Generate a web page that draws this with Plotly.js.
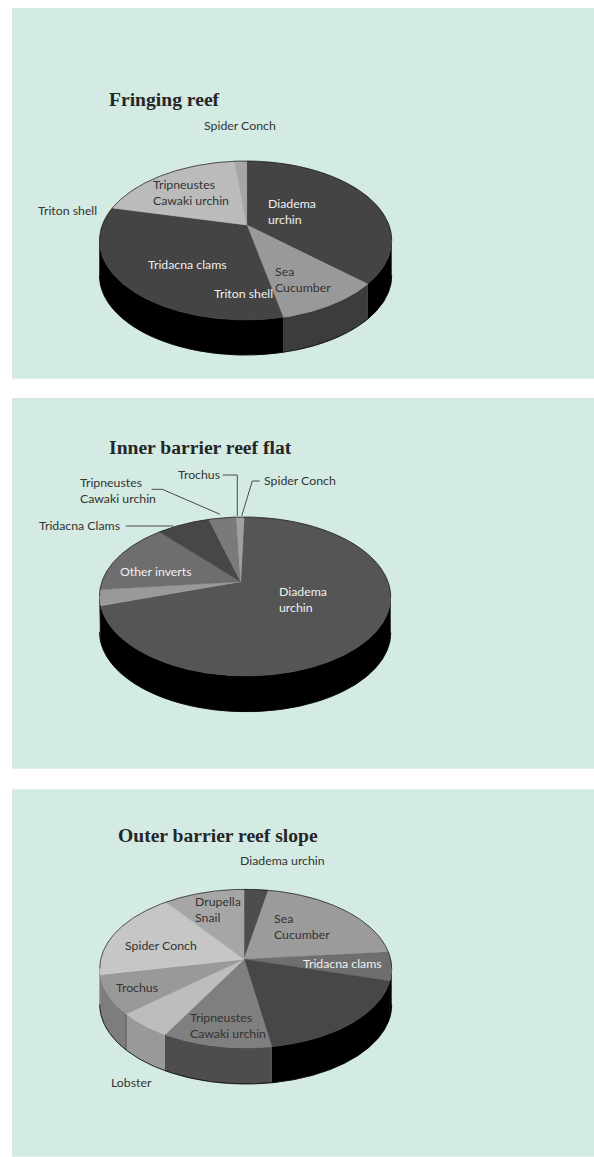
<!DOCTYPE html>
<html>
<head>
<meta charset="utf-8">
<script src="https://cdn.plot.ly/plotly-3.0.1.min.js"></script>
<style>html,body{margin:0;padding:0;background:#fff}#chart{width:594px;height:1157px}</style>
</head>
<body>
<div id="chart"></div>
<script>
// Share of invertebrates per habitat (percent), clockwise from the top of each disc.
const fringingNames  = ['Diadema urchin', 'Sea Cucumber', 'Tridacna clams', 'Tripneustes Cawaki urchin', 'Spider Conch'];
const fringingValues = [36.8, 9.9, 32.0, 19.7, 1.6];
const fringingTop    = ['#444444', '#999999', '#444444', '#bbbbbb', '#a6a6a6'];
const fringingSide   = ['#000000', '#3c3c3c', '#000000', '#000000', '#000000'];

const innerNames  = ['Diadema urchin', 'Sea Cucumber', 'Other inverts', 'Tridacna Clams', 'Tripneustes Cawaki urchin', 'Trochus'];
const innerValues = [69.6, 3.3, 15.2, 7.2, 3.7, 1.0];
const innerTop    = ['#555555', '#999999', '#6e6e6e', '#474747', '#7a7a7a', '#a0a0a0'];
const innerSide   = ['#000000', '#000000', '#000000', '#000000', '#000000', '#000000'];

const outerNames  = ['Diadema urchin', 'Sea Cucumber', 'Tridacna clams', 'Other inverts', 'Tripneustes Cawaki urchin', 'Lobster', 'Trochus', 'Spider Conch', 'Drupella Snail'];
const outerValues = [3.0, 20.3, 6.0, 18.0, 10.9, 5.5, 8.1, 18.1, 10.1];
const outerTop    = ['#4d4d4d', '#9b9b9b', '#6e6e6e', '#474747', '#7f7f7f', '#bdbdbd', '#999999', '#c6c6c6', '#a6a6a6'];
const outerSide   = ['#000000', '#000000', '#000000', '#000000', '#4d4d4d', '#999999', '#7d7d7d', '#7d7d7d', '#7d7d7d'];

const PAGE_W = 594, PAGE_H = 1157;
const toX = px => px / PAGE_W;
const toY = py => 1 - py / PAGE_H;

// Disc geometry: apex, outer extents, wall height and the panel holding it.
const panels = [
  { names: fringingNames, values: fringingValues, top: fringingTop, side: fringingSide, start: 0, seams: [],
    apex: [246.7, 225], left: 99.5, right: 391.7, upper: 161, lower: 320, wall: 35, box: [12, 8, 594, 378.7] },
  { names: innerNames, values: innerValues, top: innerTop, side: innerSide, start: 1.6, seams: [],
    apex: [240.7, 581.7], left: 99.5, right: 390.7, upper: 517, lower: 676, wall: 35.7, box: [12, 398, 594, 768.7] },
  { names: outerNames, values: outerValues, top: outerTop, side: outerSide, start: 0, seams: [6],
    apex: [244, 959.3], left: 99.7, right: 391.7, upper: 889.3, lower: 1048, wall: 36, box: [12, 789.3, 594, 1156.7] }
];

// Perspective of the tilted disc: solves tilt and scale from its outer extents.
function solveView(p) {
  const R = p.right - p.apex[0], L = p.apex[0] - p.left;
  const T = p.apex[1] - p.upper, B = p.lower - p.apex[1];
  let k = 0, m = 0;
  for (let i = 0; i < 8; i++) {
    const q = Math.sqrt(1 - k * k), s = Math.sqrt(1 - m * m);
    k = s * (B - T) / (B + T);
    m = q * (L - R) / (L + R);
  }
  const q = Math.sqrt(1 - k * k), s = Math.sqrt(1 - m * m);
  return { k, m, sx: R * (q + m), sy: T * (s + k) };
}

function rim(view, deg) {
  const a = deg * Math.PI / 180, X = Math.sin(a), Y = Math.cos(a);
  const w = 1 + view.k * Y + view.m * X;
  return [X / w, Y / w];
}

function arcDegrees(from, to) {
  const out = [];
  const n = Math.max(2, Math.ceil((to - from) * 2));
  for (let i = 0; i <= n; i++) out.push(from + (to - from) * i / n);
  return out;
}

const traces = [], annotations = [], shapes = [];
const layout = {
  width: PAGE_W, height: PAGE_H, showlegend: false, hovermode: false,
  margin: { l: 0, r: 0, t: 0, b: 0 }, paper_bgcolor: '#ffffff', plot_bgcolor: '#d4ebe3',
  annotations, shapes
};

panels.forEach((p, idx) => {
  const view = solveView(p);
  const suffix = idx === 0 ? '' : String(idx + 1);
  const xa = 'x' + suffix, ya = 'y' + suffix;
  const [x0, y0, x1, y1] = p.box;
  layout['xaxis' + suffix] = { visible: false, fixedrange: true, anchor: ya,
    domain: [toX(x0), toX(x1)], range: [(x0 - p.apex[0]) / view.sx, (x1 - p.apex[0]) / view.sx] };
  layout['yaxis' + suffix] = { visible: false, fixedrange: true, anchor: xa,
    domain: [toY(y1), toY(y0)], range: [(p.apex[1] - y1) / view.sy, (p.apex[1] - y0) / view.sy] };

  const drop = p.wall / view.sy;
  const total = p.values.reduce((a, b) => a + b, 0);

  // Front of the wall runs between the rightmost and the leftmost rim points.
  let rightDeg = 0, leftDeg = 0, maxX = -Infinity, minX = Infinity;
  for (let d = 0; d < 360; d += 0.25) {
    const x = rim(view, d)[0];
    if (x > maxX) { maxX = x; rightDeg = d; }
    if (x < minX) { minX = x; leftDeg = d; }
  }

  const wedges = [];
  let cursor = p.start;
  p.values.forEach((v, i) => {
    const from = cursor, to = cursor + v / total * 360;
    cursor = to;
    wedges.push({ from, to, i });
  });

  const line = (xs, ys, color, width) => ({ type: 'scatter', mode: 'lines', xaxis: xa, yaxis: ya, x: xs, y: ys,
    hoverinfo: 'skip', line: { color, width } });

  // Outer wall, one piece per slice.
  wedges.forEach(({ from, to, i }) => {
    const a = Math.max(from, rightDeg), b = Math.min(to, leftDeg);
    if (b <= a) return;
    const upper = arcDegrees(a, b).map(d => rim(view, d));
    const xs = upper.map(c => c[0]).concat(upper.slice().reverse().map(c => c[0]));
    const ys = upper.map(c => c[1]).concat(upper.slice().reverse().map(c => c[1] - drop));
    traces.push(Object.assign(line(xs, ys, p.side[i], 0.5), { fill: 'toself', fillcolor: p.side[i] }));
  });

  // Dark vertical edge where a slice boundary meets the wall.
  p.seams.forEach(i => {
    const c = rim(view, wedges[i].from);
    traces.push(line([c[0], c[0]], [c[1], c[1] - drop], '#4a4a4a', 0.8));
  });

  // Thin outline along the lower edge of the wall and the far edge of the disc.
  const front = arcDegrees(rightDeg, leftDeg).map(d => rim(view, d));
  traces.push(line(front.map(c => c[0]), front.map(c => c[1] - drop), '#000000', 0.8));

  // Upper face of the disc.
  wedges.forEach(({ from, to, i }) => {
    const pts = arcDegrees(from, to).map(d => rim(view, d));
    const xs = [0].concat(pts.map(c => c[0]), [0]);
    const ys = [0].concat(pts.map(c => c[1]), [0]);
    traces.push(Object.assign(line(xs, ys, p.top[i], 0.5), { fill: 'toself', fillcolor: p.top[i] }));
  });
  const back = arcDegrees(leftDeg, rightDeg + 360).map(d => rim(view, d));
  traces.push(line(back.map(c => c[0]), back.map(c => c[1]), '#1a1a1a', 0.7));
});

const TITLE_FONT = { family: '"Liberation Serif", serif', size: 19.6, color: '#262626' };
const LABEL_FONT = 'Lato, "Open Sans", sans-serif';
const DARK = '#333333', LIGHT = '#f0f0f0';

const titles = [
  ['<b>Fringing reef</b>', 108, 99],
  ['<b>Inner barrier reef flat</b>', 108, 447],
  ['<b>Outer barrier reef slope</b>', 117, 835]
];
titles.forEach(([text, x, y]) => annotations.push({
  text, xref: 'paper', yref: 'paper', x: toX(x), y: toY(y), xanchor: 'left', yanchor: 'middle',
  showarrow: false, font: TITLE_FONT, borderpad: 0
}));

const labels = [
  ['Spider Conch', 202.8, 125.2, DARK],
  ['Triton shell', 36.8, 210.2, DARK],
  ['Tripneustes<br>Cawaki urchin', 151.8, 192.2, DARK],
  ['Diadema<br>urchin', 266.8, 211.2, LIGHT],
  ['Tridacna clams', 146.8, 264.2, LIGHT],
  ['Triton shell', 213.3, 293.2, LIGHT],
  ['Sea<br>Cucumber', 273.8, 279.2, DARK],
  ['Trochus', 177.3, 474.2, DARK],
  ['Spider Conch', 263.3, 480.2, DARK],
  ['Tripneustes<br>Cawaki urchin', 78.8, 490.9, DARK],
  ['Tridacna Clams', 37.8, 525.2, DARK],
  ['Other inverts', 119.3, 571.2, LIGHT],
  ['Diadema<br>urchin', 277.8, 599.2, LIGHT],
  ['Diadema urchin', 238.8, 860.2, DARK],
  ['Drupella<br>Snail', 193.8, 909.9, DARK],
  ['Sea<br>Cucumber', 273.3, 926.9, DARK],
  ['Spider Conch', 123.8, 945.2, DARK],
  ['Tridacna clams', 301.8, 963.2, LIGHT],
  ['Trochus', 114.8, 987.2, DARK],
  ['Tripneustes<br>Cawaki urchin', 189.3, 1025.9, DARK],
  ['Lobster', 110.3, 1082.7, DARK]
];
labels.forEach(([text, x, y, color]) => annotations.push({
  text, xref: 'paper', yref: 'paper', x: toX(x), y: toY(y), xanchor: 'left', yanchor: 'middle', align: 'left',
  showarrow: false, borderpad: 0, font: { family: LABEL_FONT, size: 12.3, color }
}));

// Leader lines of the inner reef labels.
const leaders = [
  [[222.7, 475], [237.3, 475], [237.3, 516]],
  [[259.7, 481], [252.3, 481], [241.7, 516]],
  [[151.7, 489.3], [162.3, 489.3], [220, 514.3]],
  [[125.7, 526], [173.3, 526]]
];
leaders.forEach(pts => shapes.push({
  type: 'path', xref: 'paper', yref: 'paper',
  path: pts.map((c, i) => (i ? 'L' : 'M') + toX(c[0]) + ',' + toY(c[1])).join(' '),
  line: { color: '#4a4a4a', width: 1 }
}));

Plotly.newPlot('chart', traces, layout, { staticPlot: true, displayModeBar: false });
</script>
</body>
</html>
